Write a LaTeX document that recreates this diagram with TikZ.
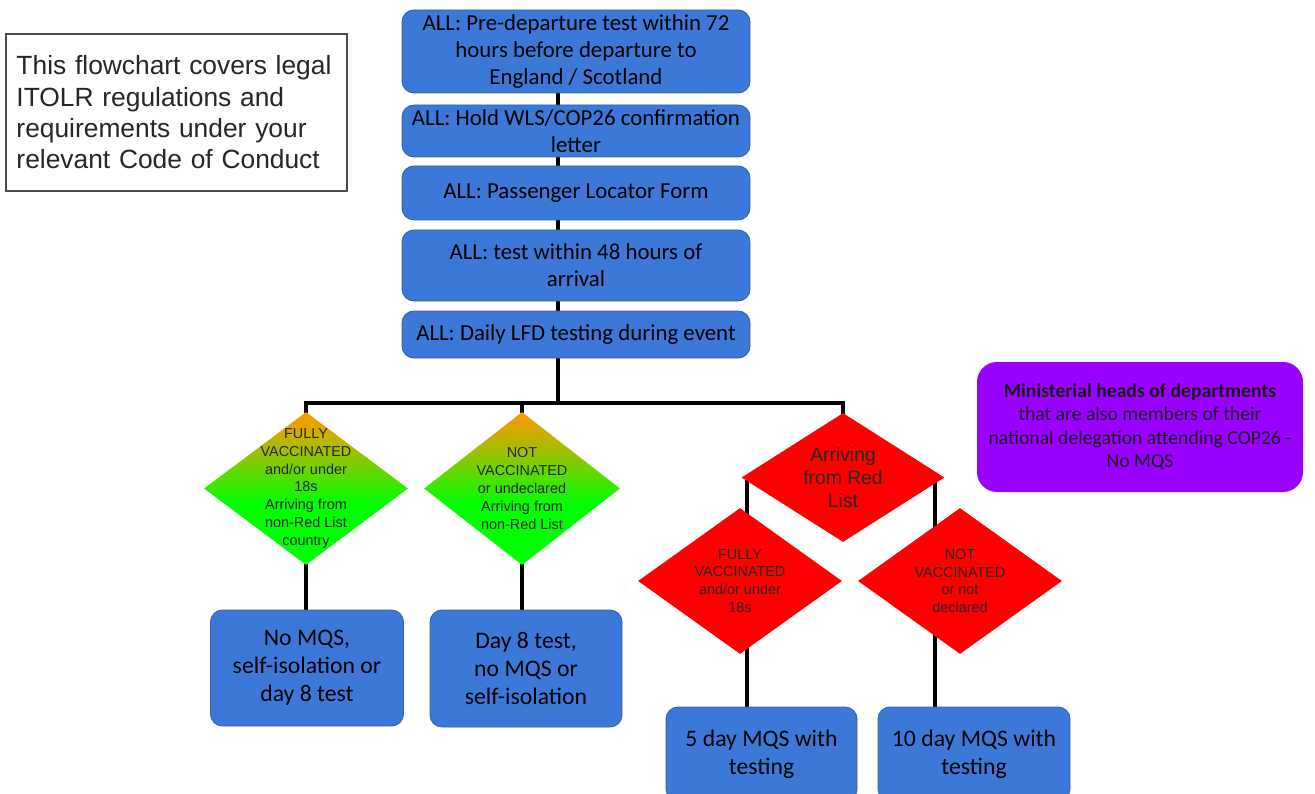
\documentclass[tikz,border=0pt]{standalone}
\usepackage{fontspec}
\setmainfont{Carlito}
\newfontfamily\arialf{Liberation Sans}
\usepackage{xcolor}
\usetikzlibrary{shapes.geometric}
\definecolor{boxblue}{HTML}{3C78D8}
\definecolor{boxedge}{HTML}{2F62B8}
\definecolor{ministerpurple}{HTML}{9900FF}
\definecolor{amber}{HTML}{FF9900}
\pgfdeclarelayer{bg}
\pgfsetlayers{bg,main}
\pgfdeclareverticalshading{amberlime}{100bp}{color(0bp)=(green); color(45bp)=(green); color(60bp)=(amber!55!green); color(71bp)=(amber!90!green); color(75bp)=(amber); color(100bp)=(amber)}

\begin{document}
\begin{tikzpicture}[
  allbox/.style={draw=boxedge, line width=0.5pt, fill=boxblue, rounded corners=0.24cm, minimum width=6.96cm, align=center, inner sep=0pt, font=\fontsize{13}{15.3}\selectfont},
  outbox/.style={allbox, minimum width=3.86cm, font=\fontsize{13.5}{15.9}\selectfont},
  greendiam/.style={diamond, shading=amberlime, inner sep=0pt},
  reddiam/.style={diamond, fill=red, inner sep=0pt},
  dtext/.style={align=center, text=black!85, font=\arialf\fontsize{8.2}{10.2}\selectfont},
  link/.style={line width=2pt, line cap=rect}]
\useasboundingbox (0,0) rectangle (26.3,-15.88);

\node[draw=black!70, line width=0.6pt, minimum width=6.82cm, minimum height=3.14cm, text width=6.4cm, inner xsep=0.21cm, align=left, text=black!85, font=\arialf\fontsize{15}{17.8}\selectfont] (note) at (3.53,-2.25) {This flowchart covers legal\\ITOLR regulations and\\requirements under your\\relevant Code of Conduct};

\node[allbox, minimum height=1.66cm] (b1) at (11.52,-1.03) {ALL: Pre-departure test within 72\\hours before departure to\\England / Scotland};
\node[allbox, minimum height=1.04cm] (b2) at (11.52,-2.62) {ALL: Hold WLS/COP26 confirmation\\letter};
\node[allbox, minimum height=1.08cm] (b3) at (11.52,-3.86) {ALL: Passenger Locator Form};
\node[allbox, minimum height=1.42cm] (b4) at (11.52,-5.31) {ALL: test within 48 hours of\\arrival};
\node[allbox, minimum height=0.94cm] (b5) at (11.52,-6.69) {ALL: Daily LFD testing during event};
\coordinate (trunk) at (11.16,-8.06);

\node[greendiam, minimum width=4.08cm, minimum height=3.06cm, label={[dtext]center:{FULLY\\VACCINATED\\and/or under\\18s\\Arriving from\\non-Red List\\country}}] (d1) at (6.12,-9.77) {};
\node[greendiam, minimum width=3.92cm, minimum height=3.06cm, label={[dtext]center:{NOT\\VACCINATED\\or undeclared\\Arriving from\\non-Red List}}] (d2) at (10.44,-9.77) {};
\node[reddiam, minimum width=4.06cm, minimum height=2.58cm, label={[dtext, font=\arialf\fontsize{11}{13}\selectfont]center:{Arriving\\from Red\\List}}] (red) at (16.86,-9.55) {};
\node[reddiam, minimum width=4.08cm, minimum height=2.92cm, label={[dtext]center:{FULLY\\VACCINATED\\and/or under\\18s}}] (fvred) at (14.8,-11.62) {};
\node[reddiam, minimum width=4.08cm, minimum height=2.92cm, label={[dtext]center:{NOT\\VACCINATED\\or not\\declared}}] (nvred) at (19.2,-11.62) {};

\node[outbox, minimum height=2.32cm] (o1) at (6.14,-13.36) {No MQS,\\self-isolation or\\day 8 test};
\node[outbox, minimum width=3.84cm, minimum height=2.34cm] (o2) at (10.52,-13.37) {Day 8 test,\\no MQS or\\self-isolation};
\node[outbox, minimum width=3.82cm, minimum height=1.88cm] (o3) at (15.23,-15.08) {5 day MQS with\\testing};
\node[outbox, minimum width=3.84cm, minimum height=1.88cm] (o4) at (19.48,-15.08) {10 day MQS with\\testing};

\node[fill=ministerpurple, rounded corners=0.4cm, minimum width=6.52cm, minimum height=2.6cm, align=center, text=black!90, font=\fontsize{11.2}{13.3}\selectfont] (minister) at (22.8,-8.54) {\textbf{Ministerial heads of departments}\\that are also members of their\\national delegation attending COP26 -\\No MQS};

\begin{pgfonlayer}{bg}
\fill[white] (0,0) rectangle (26.3,-15.88);
\foreach \a/\b in {b1/b2,b2/b3,b3/b4,b4/b5}
  \draw[link] (\a.south -| trunk) -- (\b.north -| trunk);
\draw[link] (b5.south -| trunk) -- (trunk);
\draw[link] (d1.north |- trunk) -- (red.north |- trunk);
\foreach \d in {d1,d2,red}
  \draw[link] (\d.north |- trunk) -- (\d.north);
\draw[link] (d1.south) -- (d1.south |- o1.north);
\draw[link] (d2.south) -- (d2.south |- o2.north);
\draw[link] ([xshift=0.12cm]red.west) -- ([xshift=0.12cm]red.west |- o3.north);
\draw[link] ([xshift=-0.2cm]red.east) -- ([xshift=-0.2cm]red.east |- o4.north);
\end{pgfonlayer}
\end{tikzpicture}
\end{document}
